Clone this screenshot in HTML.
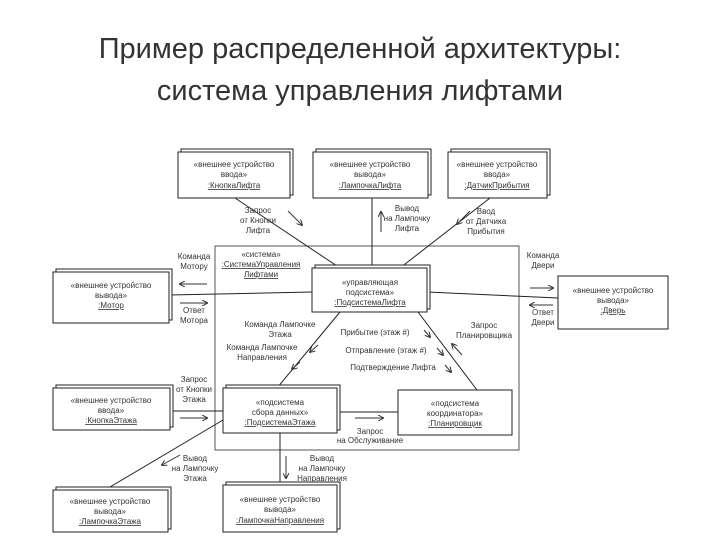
<!DOCTYPE html>
<html><head><meta charset="utf-8"><style>
body{margin:0;background:#fff;width:720px;height:540px;overflow:hidden}
.t{font-family:"Liberation Sans",sans-serif;font-size:29px;fill:#333;text-anchor:middle}
text.s{font-family:"Liberation Sans",sans-serif;font-size:8px;fill:#333;text-anchor:middle}
</style></head><body>
<svg width="720" height="540" xmlns="http://www.w3.org/2000/svg">
<text class="t" x="360" y="58">Пример распределенной архитектуры:</text>
<text class="t" x="360" y="100">система управления лифтами</text>
<defs><marker id="a" markerWidth="6" markerHeight="6" refX="5" refY="3" orient="auto"><path d="M0,0 L6,3 L0,6" fill="none" stroke="#333" stroke-width="1"/></marker></defs>
<g stroke="#222" fill="none" stroke-width="1">
<rect x="215" y="246" width="304" height="204" stroke="#555"/>
<line x1="235" y1="198" x2="340" y2="268"/>
<line x1="372" y1="198" x2="372" y2="268"/>
<line x1="490" y1="198" x2="400" y2="268"/>
<line x1="169" y1="295" x2="312" y2="292"/>
<line x1="427" y1="292" x2="558" y2="298"/>
<line x1="340" y1="312" x2="277" y2="388"/>
<line x1="418" y1="312" x2="477" y2="390"/>
<line x1="170" y1="411" x2="223" y2="411"/>
<line x1="223" y1="420" x2="110" y2="487"/>
<line x1="280" y1="433" x2="280" y2="487"/>
<line x1="337" y1="412" x2="398" y2="412"/>
</g>
<g fill="#fff" stroke="#222">
<rect x="181" y="149" width="112" height="46"/><rect x="178" y="152" width="112" height="46"/>
<rect x="316" y="149" width="115" height="46"/><rect x="313" y="152" width="115" height="46"/>
<rect x="451" y="149" width="99" height="46"/><rect x="448" y="152" width="99" height="46"/>
<rect x="315" y="265" width="115" height="44"/><rect x="312" y="268" width="115" height="44"/>
<rect x="56" y="269" width="116" height="51"/><rect x="53" y="272" width="116" height="51"/>
<rect x="558" y="276" width="110" height="53"/>
<rect x="226" y="385" width="114" height="45"/><rect x="223" y="388" width="114" height="45"/>
<rect x="398" y="390" width="114" height="45"/>
<rect x="56" y="385" width="117" height="42"/><rect x="53" y="388" width="117" height="42"/>
<rect x="56" y="487" width="115" height="42"/><rect x="53" y="490" width="115" height="42"/>
<rect x="226" y="482" width="114" height="47"/><rect x="223" y="485" width="114" height="47"/>
</g>
<g stroke="#333" stroke-width="1" marker-end="url(#a)">
<line x1="288" y1="211" x2="302" y2="225"/>
<line x1="381" y1="232" x2="381" y2="212"/>
<line x1="470" y1="211" x2="457" y2="224"/>
<line x1="207" y1="284" x2="180" y2="284"/>
<line x1="180" y1="303" x2="207" y2="303"/>
<line x1="530" y1="288" x2="553" y2="288"/>
<line x1="553" y1="305" x2="530" y2="305"/>
<line x1="318" y1="345" x2="310" y2="352"/>
<line x1="300" y1="362" x2="292" y2="369"/>
<line x1="424" y1="330" x2="430" y2="337"/>
<line x1="437" y1="348" x2="443" y2="355"/>
<line x1="445" y1="365" x2="451" y2="372"/>
<line x1="462" y1="355" x2="452" y2="344"/>
<line x1="180" y1="418" x2="207" y2="418"/>
<line x1="180" y1="455" x2="162" y2="465"/>
<line x1="286" y1="456" x2="286" y2="478"/>
<line x1="355" y1="418" x2="383" y2="418"/>
</g>
<g>
<text class="s" x="234" y="167">«внешнее устройство</text><text class="s" x="234" y="177">ввода»</text><text class="s" x="234" y="188" text-decoration="underline">:КнопкаЛифта</text>
<text class="s" x="370" y="167">«внешнее устройство</text><text class="s" x="370" y="177">вывода»</text><text class="s" x="370" y="188" text-decoration="underline">:ЛампочкаЛифта</text>
<text class="s" x="497" y="167">«внешнее устройство</text><text class="s" x="497" y="177">ввода»</text><text class="s" x="497" y="188" text-decoration="underline">:ДатчикПрибытия</text>
<text class="s" x="258" y="213">Запрос</text><text class="s" x="258" y="223">от Кнопки</text><text class="s" x="258" y="233">Лифта</text>
<text class="s" x="407" y="211">Вывод</text><text class="s" x="407" y="221">на Лампочку</text><text class="s" x="407" y="231">Лифта</text>
<text class="s" x="486" y="214">Ввод</text><text class="s" x="486" y="224">от Датчика</text><text class="s" x="486" y="234">Прибытия</text>
<text class="s" x="261" y="257">«система»</text><text class="s" x="261" y="267" text-decoration="underline">:СистемаУправления</text><text class="s" x="261" y="277" text-decoration="underline">Лифтами</text>
<text class="s" x="370" y="285">«управляющая</text><text class="s" x="370" y="295">подсистема»</text><text class="s" x="370" y="305" text-decoration="underline">:ПодсистемаЛифта</text>
<text class="s" x="111" y="288">«внешнее устройство</text><text class="s" x="111" y="298">вывода»</text><text class="s" x="111" y="308" text-decoration="underline">:Мотор</text>
<text class="s" x="613" y="293">«внешнее устройство</text><text class="s" x="613" y="303">вывода»</text><text class="s" x="613" y="313" text-decoration="underline">:Дверь</text>
<text class="s" x="194" y="259">Команда</text><text class="s" x="194" y="269">Мотору</text>
<text class="s" x="194" y="313">Ответ</text><text class="s" x="194" y="323">Мотора</text>
<text class="s" x="543" y="258">Команда</text><text class="s" x="543" y="268">Двери</text>
<text class="s" x="543" y="315">Ответ</text><text class="s" x="543" y="325">Двери</text>
<text class="s" x="280" y="327">Команда Лампочке</text><text class="s" x="280" y="337">Этажа</text>
<text class="s" x="262" y="350">Команда Лампочке</text><text class="s" x="262" y="360">Направления</text>
<text class="s" x="375" y="335">Прибытие (этаж #)</text>
<text class="s" x="386" y="353">Отправление (этаж #)</text>
<text class="s" x="393" y="370">Подтверждение Лифта</text>
<text class="s" x="484" y="328">Запрос</text><text class="s" x="484" y="338">Планировщика</text>
<text class="s" x="111" y="403">«внешнее устройство</text><text class="s" x="111" y="413">ввода»</text><text class="s" x="111" y="423" text-decoration="underline">:КнопкаЭтажа</text>
<text class="s" x="194" y="382">Запрос</text><text class="s" x="194" y="392">от Кнопки</text><text class="s" x="194" y="402">Этажа</text>
<text class="s" x="280" y="405">«подсистема</text><text class="s" x="280" y="415">сбора данных»</text><text class="s" x="280" y="425" text-decoration="underline">:ПодсистемаЭтажа</text>
<text class="s" x="455" y="406">«подсистема</text><text class="s" x="455" y="416">координатора»</text><text class="s" x="455" y="426" text-decoration="underline">:Планировщик</text>
<text class="s" x="370" y="434">Запрос</text><text class="s" x="370" y="443">на Обслуживание</text>
<text class="s" x="195" y="461">Вывод</text><text class="s" x="195" y="471">на Лампочку</text><text class="s" x="195" y="481">Этажа</text>
<text class="s" x="322" y="461">Вывод</text><text class="s" x="322" y="471">на Лампочку</text><text class="s" x="322" y="481">Направления</text>
<text class="s" x="110" y="504">«внешнее устройство</text><text class="s" x="110" y="514">вывода»</text><text class="s" x="110" y="524" text-decoration="underline">:ЛампочкаЭтажа</text>
<text class="s" x="280" y="502">«внешнее устройство</text><text class="s" x="280" y="512">вывода»</text><text class="s" x="280" y="523" text-decoration="underline">:ЛампочкаНаправления</text>
</g>
</svg>
</body></html>
